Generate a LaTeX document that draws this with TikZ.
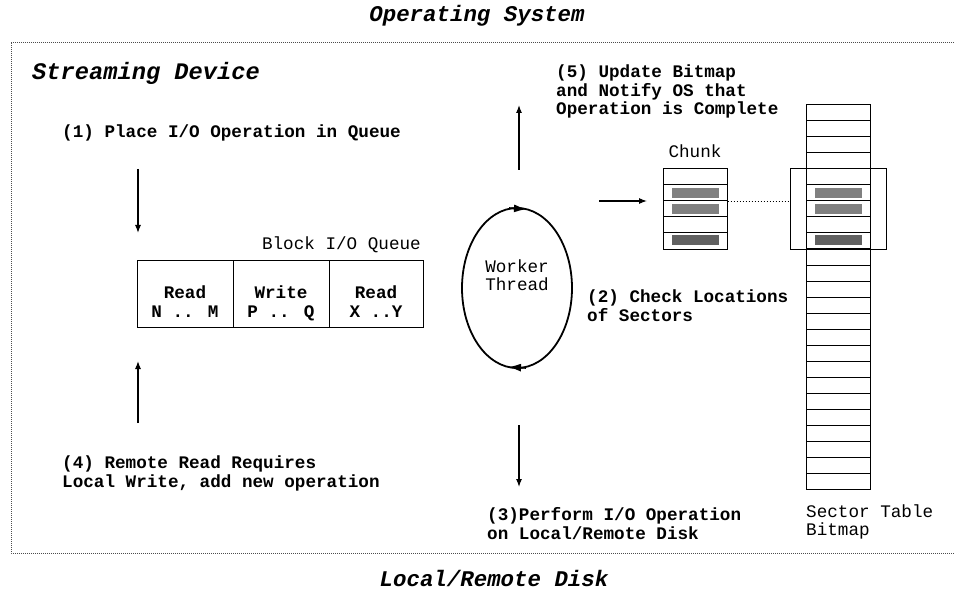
\documentclass[tikz,border=0pt]{standalone}
\usepackage{fontspec}
\setmainfont{Liberation Mono}
\usetikzlibrary{arrows.meta}
\begin{document}
\begin{tikzpicture}[x=1bp,y=-1bp,
  note/.style={inner sep=0pt, align=left, anchor=base west,
    font=\fontsize{17.7}{18.6}\selectfont\bfseries},
  plain/.style={inner sep=0pt, align=left, anchor=base west,
    font=\fontsize{17.7}{18}\selectfont},
  ttl/.style={inner sep=0pt, anchor=base,
    font=\fontsize{22.5}{24}\selectfont\bfseries\itshape},
  cell/.style={draw, line width=1bp, inner sep=0pt, minimum height=16bp},
  bar/.style={fill=black!50, draw=none},
  bardark/.style={fill=black!62, draw=none},
  flow/.style={-{Latex[length=8bp,width=6bp]}, line width=1.1bp},
  loophead/.style={line width=1.8bp, -{Latex[length=13bp,width=8bp]}},
  frame/.style={line width=0.8bp, black!70, dash pattern=on 1bp off 1bp},
]
\useasboundingbox (0,0) rectangle (954,590);

% outer region labels and dotted boundary
\node[ttl] (os) at (477,22) {Operating System};
\node[ttl] (disk) at (494,586) {Local/Remote Disk};
\draw[frame] (954,42) -- (11,42) -- (11,553) -- (954,553);
\node[ttl, anchor=base west, font=\fontsize{23.8}{25}\selectfont\bfseries\itshape] (dev) at (32,80) {Streaming Device};

% block I/O queue (multi-line nodes are placed by their last baseline)
\node[cell, minimum width=96bp, minimum height=66bp] (q1) at (185,294) {};
\node[cell, minimum width=96bp, minimum height=66bp] (q2) at (281,294) {};
\node[cell, minimum width=94bp, minimum height=66bp] (q3) at (376,294) {};
\node[note, align=center, anchor=base] (t1) at (185,317) {Read\\N .. M};
\node[note, align=center, anchor=base] (t2) at (281,317) {Write\\P .. Q};
\node[note, align=center, anchor=base] (t3) at (376,317) {Read\\X ..Y};
\node[plain, anchor=base east] (qlbl) at (421,250) {Block I/O Queue};

% worker thread loop, running clockwise
\node[plain, align=center, anchor=base] (wt) at (517,290) {Worker\\Thread};
\coordinate (wc) at (517,288);
\draw[line width=1.8bp] (wc) ellipse [x radius=55, y radius=80];
\coordinate (lt1) at (509,208.1);
\coordinate (lt2) at (527,209.2);
\draw[loophead] (lt1) -- (lt2);
\coordinate (lb1) at (526,367.9);
\coordinate (lb2) at (508,367.0);
\draw[loophead] (lb1) -- (lb2);

% chunk
\node[plain, anchor=base] (chl) at (695,158) {Chunk};
\foreach \i in {0,...,4}
  \node[cell, minimum width=64bp] (c\i) at (695,177+16*\i) {};
\foreach \i in {1,2}
  \fill[bar] ([xshift=9bp,yshift=-4bp]c\i.north west) rectangle ([xshift=-9bp,yshift=3bp]c\i.south east);
\fill[bardark] ([xshift=9bp,yshift=-3bp]c4.north west) rectangle ([xshift=-9bp,yshift=4bp]c4.south east);

% sector table bitmap
\foreach \i in {0,...,23}
  \node[cell, minimum width=64bp] (s\i) at (838,113+16*\i) {};
\foreach \i in {5,6}
  \fill[bar] ([xshift=9bp,yshift=-4bp]s\i.north west) rectangle ([xshift=-9bp,yshift=3bp]s\i.south east);
\fill[bardark] ([xshift=9bp,yshift=-3bp]s8.north west) rectangle ([xshift=-9bp,yshift=4bp]s8.south east);
\node[draw, line width=1bp, inner sep=0pt, minimum width=96bp, minimum height=80bp] (win) at (838,209) {};
\node[plain] (stl) at (806,535) {Sector Table\\Bitmap};

% chunk maps onto its window of the bitmap
\draw[line width=0.9bp, dash pattern=on 1.5bp off 1.5bp] (c1.south east) -- (win.west |- c1.south east);
\coordinate (cin) at (599,201);
\coordinate (cout) at (647,201);
\draw[flow] (cin) -- (cout);

% step arrows
\coordinate (a1s) at (138,169);
\coordinate (a1e) at (138,233);
\draw[flow] (a1s) -- (a1e);
\coordinate (a4s) at (138,423);
\coordinate (a4e) at (138,361);
\draw[flow] (a4s) -- (a4e);
\coordinate (a5s) at (519,170);
\coordinate (a5e) at (519,105);
\draw[flow] (a5s) -- (a5e);
\coordinate (a3s) at (519,425);
\coordinate (a3e) at (519,487);
\draw[flow] (a3s) -- (a3e);

% step descriptions
\node[note] (n1) at (62,138) {(1) Place I/O Operation in Queue};
\node[note] (n5) at (556,115) {(5) Update Bitmap\\and Notify OS that\\Operation is Complete};
\node[note] (n2) at (587,321) {(2) Check Locations\\of Sectors};
\node[note] (n4) at (62,487) {(4) Remote Read Requires\\Local Write, add new operation};
\node[note] (n3) at (487,539) {(3)Perform I/O Operation\\on Local/Remote Disk};
\end{tikzpicture}
\end{document}
